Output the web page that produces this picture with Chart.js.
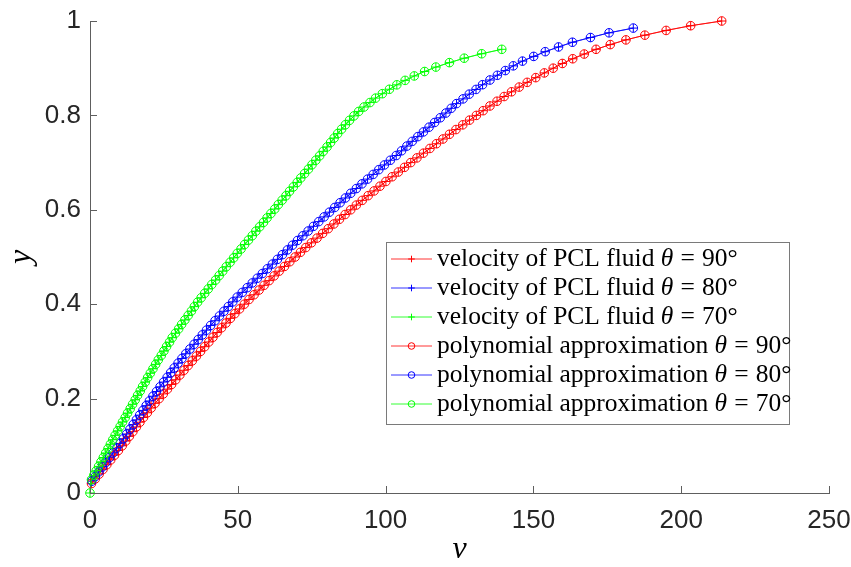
<!DOCTYPE html>
<html>
<head>
<meta charset="utf-8">
<title>PCL fluid velocity</title>
<script src="https://cdn.jsdelivr.net/npm/chart.js@4/dist/chart.umd.min.js"></script>
<style>
  html, body { margin: 0; padding: 0; background: #fff; }
  #wrap { width: 851px; height: 567px; }
</style>
</head>
<body>
<div id="wrap"><canvas id="chart" width="851" height="567"></canvas></div>
<script>
/* ── data: velocity v against height y ─────────────────────────────────── */
const xTicks = [0, 50, 100, 150, 200, 250];
const yTicks = [0, 0.2, 0.4, 0.6, 0.8, 1];

const redY = [0.02, 0.03, 0.04, 0.05, 0.06, 0.07, 0.08, 0.09, 0.10, 0.11, 0.12, 0.13, 0.14, 0.15, 0.16, 0.17, 0.18, 0.19,
  0.20, 0.21, 0.22, 0.23, 0.24, 0.25, 0.26, 0.27, 0.28, 0.29, 0.30, 0.31, 0.32, 0.33, 0.34, 0.35, 0.36, 0.37, 0.38, 0.39,
  0.40, 0.41, 0.42, 0.43, 0.44, 0.45, 0.46, 0.47, 0.48, 0.49, 0.50, 0.51, 0.52, 0.53, 0.54, 0.55, 0.56, 0.57, 0.58, 0.59,
  0.60, 0.61, 0.62, 0.63, 0.64, 0.65, 0.66, 0.67, 0.68, 0.69, 0.70, 0.71, 0.72, 0.73, 0.74, 0.75, 0.76, 0.77, 0.78, 0.79,
  0.80, 0.81, 0.82, 0.83, 0.84, 0.85, 0.86, 0.87, 0.88, 0.89, 0.90, 0.91, 0.92, 0.93, 0.94, 0.95, 0.96, 0.97, 0.98, 0.99, 1.00];
const redV = [0.5, 1.8, 3.1, 4.4, 5.7, 7.0, 8.3, 9.6, 10.9, 12.1, 13.3, 14.5, 15.7, 16.9, 18.1, 19.4, 20.7, 22.0,
  23.4, 24.8, 26.2, 27.6, 29.0, 30.4, 31.8, 33.2, 34.6, 36.0, 37.4, 38.8, 40.2, 41.6, 43.0, 44.5, 46.0, 47.5, 49.0, 50.6,
  52.2, 53.8, 55.5, 57.2, 58.9, 60.6, 62.3, 64.0, 65.8, 67.6, 69.4, 71.2, 73.0, 74.9, 76.8, 78.7, 80.6, 82.5, 84.4, 86.3,
  88.2, 90.1, 92.1, 94.1, 96.1, 98.1, 100.1, 102.2, 104.3, 106.4, 108.5, 110.6, 112.8, 115.0, 117.2, 119.4, 121.6, 123.8, 126.1, 128.4,
  130.7, 133.0, 135.3, 137.7, 140.1, 142.6, 145.2, 147.9, 150.8, 153.7, 156.7, 159.8, 163.3, 167.2, 171.2, 176.0, 181.3, 187.7, 194.9, 203.2, 213.7];

const blueY = [0.025, 0.035, 0.045, 0.055, 0.065, 0.075, 0.085, 0.095, 0.105, 0.115, 0.125, 0.135, 0.145, 0.155, 0.165, 0.175,
  0.185, 0.195, 0.205, 0.215, 0.225, 0.235, 0.245, 0.255, 0.265, 0.275, 0.285, 0.295, 0.305, 0.315, 0.325, 0.335, 0.345,
  0.355, 0.365, 0.375, 0.385, 0.395, 0.405, 0.415, 0.425, 0.435, 0.445, 0.455, 0.465, 0.475, 0.485, 0.495, 0.505, 0.515,
  0.525, 0.535, 0.545, 0.555, 0.565, 0.575, 0.585, 0.595, 0.605, 0.615, 0.625, 0.635, 0.645, 0.655, 0.665, 0.675, 0.685,
  0.695, 0.705, 0.715, 0.725, 0.735, 0.745, 0.755, 0.765, 0.775, 0.785, 0.795, 0.805, 0.815, 0.825, 0.835, 0.845, 0.855,
  0.865, 0.875, 0.885, 0.895, 0.905, 0.915, 0.925, 0.935, 0.945, 0.955, 0.965, 0.975, 0.985];
const blueV = [0.6, 1.8, 3.0, 4.2, 5.4, 6.6, 7.8, 9.0, 10.2, 11.3, 12.4, 13.5, 14.6, 15.7, 16.8, 17.9,
  19.0, 20.1, 21.3, 22.5, 23.7, 24.9, 26.1, 27.3, 28.5, 29.8, 31.1, 32.4, 33.8, 35.2, 36.6, 38.0, 39.4,
  40.8, 42.3, 43.8, 45.3, 46.8, 48.3, 49.8, 51.5, 53.2, 54.9, 56.6, 58.3, 60.0, 61.7, 63.4, 65.1, 66.8,
  68.5, 70.2, 72.0, 73.8, 75.6, 77.4, 79.2, 81.0, 82.8, 84.6, 86.4, 88.2, 90.1, 92.0, 93.9, 95.8, 97.7,
  99.6, 101.6, 103.6, 105.4, 107.2, 109.0, 110.9, 112.8, 114.7, 116.6, 118.5, 120.4, 122.2, 124.0, 126.2, 128.3, 130.6,
  132.8, 135.3, 137.8, 140.5, 143.2, 146.3, 150.1, 154.0, 158.5, 163.2, 169.3, 175.6, 183.8];

const greenY = [0, 0.0282, 0.0376, 0.047, 0.0564, 0.0658, 0.0752, 0.0846, 0.094, 0.1034, 0.1128, 0.1222, 0.1316, 0.141,
  0.1504, 0.1598, 0.1692, 0.1786, 0.188, 0.1974, 0.2068, 0.2162, 0.2256, 0.235, 0.2444, 0.2538, 0.2632, 0.2726, 0.282,
  0.2914, 0.3008, 0.3102, 0.3196, 0.329, 0.3384, 0.3478, 0.3572, 0.3666, 0.376, 0.3854, 0.3948, 0.4042, 0.4136, 0.423,
  0.4324, 0.4418, 0.4512, 0.4606, 0.47, 0.4794, 0.4888, 0.4982, 0.5076, 0.517, 0.5264, 0.5358, 0.5452, 0.5546, 0.564,
  0.5734, 0.5828, 0.5922, 0.6016, 0.611, 0.6204, 0.6298, 0.6392, 0.6486, 0.658, 0.6674, 0.6768, 0.6862, 0.6956, 0.705,
  0.7144, 0.7238, 0.7332, 0.7426, 0.752, 0.7614, 0.7708, 0.7802, 0.7896, 0.799, 0.8084, 0.8178, 0.8272, 0.8366, 0.846,
  0.8554, 0.8648, 0.8742, 0.8836, 0.893, 0.9024, 0.9118, 0.9212, 0.9306, 0.94];
const greenV = [0, 0.5, 1.3, 2.1, 2.9, 3.7, 4.5, 5.3, 6.1, 6.9, 7.7, 8.5, 9.35, 10.2,
  11.0, 11.9, 12.7, 13.6, 14.4, 15.3, 16.1, 17.0, 17.8, 18.7, 19.5, 20.4, 21.3, 22.2, 23.1,
  24.1, 25.0, 25.9, 26.9, 27.8, 28.9, 30.0, 31.0, 32.1, 33.2, 34.3, 35.3, 36.4, 37.6, 38.8,
  40.0, 41.2, 42.5, 43.7, 44.9, 46.1, 47.4, 48.6, 49.8, 51.1, 52.3, 53.6, 54.9, 56.1, 57.4,
  58.7, 59.9, 61.2, 62.5, 63.7, 65.0, 66.3, 67.5, 68.8, 70.1, 71.3, 72.6, 73.9, 75.1, 76.4,
  77.7, 78.9, 80.2, 81.4, 82.6, 83.8, 85.1, 86.4, 87.8, 89.3, 90.9, 92.7, 94.7, 96.6, 98.9,
  101.3, 103.8, 106.6, 109.7, 113.2, 117.0, 121.6, 126.6, 132.5, 139.3];

const angles = ["90", "80", "70"];
const colors = ["#ff0000", "#0000ff", "#00ff00"];

/* ── helpers ────────────────────────────────────────────────────────────── */
const INK = "#262626";
const AXIS = "#5e5e5e";
const SANS = "'Liberation Sans', Arial, sans-serif";
const SERIF = "'Liberation Serif', 'Times New Roman', serif";
const LEG_PX = 25.5;

function pts(vs, ys) {
  return vs.map((v, i) => ({ x: v, y: ys[i] }));
}

const series = [pts(redV, redY), pts(blueV, blueY), pts(greenV, greenY)];

function dataset(i, style) {
  return {
    label: style === "cross" ? `velocity of PCL fluid θ = ${angles[i]}°` : `polynomial approximation θ = ${angles[i]}°`,
    data: series[i],
    showLine: true,
    borderColor: colors[i],
    borderWidth: 0.8,
    pointStyle: style,
    pointRadius: 4.3,
    pointBorderWidth: 1,
    pointBorderColor: colors[i],
    pointBackgroundColor: "rgba(0,0,0,0)",
    backgroundColor: "rgba(0,0,0,0)",
    clip: false,
  };
}

// Chart.js paints dataset 0 last; MATLAB paints the last one on top, so flip order
const datasets = [0, 1, 2].map((i) => dataset(i, "cross"))
  .concat([0, 1, 2].map((i) => dataset(i, "circle")));
datasets.forEach((d, k) => { d.order = datasets.length - k; });

/* inward tick marks like a MATLAB axes */
const inwardTicks = {
  id: "inwardTicks",
  afterDatasetsDraw(chart) {
    const { ctx, chartArea: a, scales } = chart;
    ctx.save();
    ctx.strokeStyle = AXIS;
    ctx.lineWidth = 1;
    ctx.beginPath();
    xTicks.forEach((t) => {
      const px = Math.round(scales.x.getPixelForValue(t)) + 0.5;
      ctx.moveTo(px, a.bottom);
      ctx.lineTo(px, a.bottom - 7);
    });
    yTicks.forEach((t) => {
      const py = Math.round(scales.y.getPixelForValue(t)) + 0.5;
      ctx.moveTo(a.left, py);
      ctx.lineTo(a.left + 7, py);
    });
    ctx.stroke();
    ctx.restore();
  },
};

/* legend box inside the axes, drawn on top */
const boxLegend = {
  id: "boxLegend",
  afterDraw(chart) {
    const ctx = chart.ctx;
    const box = { x: 386, y: 242, w: 403, h: 182 };
    const rowH = 29;
    const roman = `${LEG_PX}px ${SERIF}`;
    const italic = `italic ${LEG_PX}px ${SERIF}`;
    const gap = LEG_PX * 0.28;
    ctx.save();
    ctx.fillStyle = "#fff";
    ctx.fillRect(box.x, box.y, box.w, box.h);
    ctx.strokeStyle = "#7a7a7a";
    ctx.lineWidth = 1;
    ctx.strokeRect(box.x + 0.5, box.y + 0.5, box.w, box.h);

    datasets.forEach((d, i) => {
      const cy = box.y + 17 + i * rowH;
      ctx.strokeStyle = d.borderColor;
      ctx.lineWidth = 0.8;
      ctx.beginPath();
      ctx.moveTo(391, cy);
      ctx.lineTo(432, cy);
      ctx.stroke();
      ctx.lineWidth = 1;
      ctx.fillStyle = "rgba(0,0,0,0)";
      Chart.helpers.drawPoint(ctx, { pointStyle: d.pointStyle, radius: 3.3, borderWidth: 1, rotation: 0 }, 411.5, cy);

      // "<text> θ = NN°" with TeX-like spacing round the equals sign
      const head = d.label.split("θ")[0];
      const parts = [
        [head, roman, 0],
        ["θ", italic, gap],
        ["=", roman, gap],
        [angles[i % 3] + "°", roman, 0],
      ];
      let x = 437;
      const base = cy + 7;
      ctx.fillStyle = "#000";
      ctx.textBaseline = "alphabetic";
      parts.forEach(([txt, font, after]) => {
        ctx.font = font;
        ctx.fillText(txt, x, base);
        x += ctx.measureText(txt).width + after;
      });
    });
    ctx.restore();
  },
};

function tickText(v) {
  return String(Math.round(v * 10) / 10);
}

/* ── chart ──────────────────────────────────────────────────────────────── */
new Chart(document.getElementById("chart"), {
  type: "scatter",
  data: { datasets },
  options: {
    responsive: false,
    animation: false,
    events: [],
    layout: { padding: { top: 21, right: 22, left: 0, bottom: 0 } },
    plugins: { legend: { display: false }, tooltip: { enabled: false } },
    scales: {
      x: {
        type: "linear",
        min: 0,
        max: 250,
        afterFit(scale) {
          scale.height = 74;
          scale.paddingLeft = 0;
          scale.paddingRight = 0;
        },
        afterBuildTicks(scale) { scale.ticks = xTicks.map((v) => ({ value: v })); },
        ticks: { font: { family: SANS, size: 26 }, color: INK, padding: 12, maxRotation: 0, callback: tickText },
        grid: { display: false, drawTicks: false },
        border: { display: true, color: AXIS, width: 1 },
        title: {
          display: true,
          text: "v",
          color: "#000",
          font: { family: SERIF, style: "italic", size: 32 },
          padding: { top: 0, bottom: -2 },
        },
      },
      y: {
        type: "linear",
        min: 0,
        max: 1,
        afterFit(scale) {
          scale.width = 90;
          scale.paddingTop = 0;
          scale.paddingBottom = 0;
        },
        afterBuildTicks(scale) { scale.ticks = yTicks.map((v) => ({ value: v })); },
        ticks: { font: { family: SANS, size: 26 }, color: INK, padding: 9, callback: tickText },
        grid: { display: false, drawTicks: false },
        border: { display: true, color: AXIS, width: 1 },
        title: {
          display: true,
          text: "y",
          color: "#000",
          font: { family: SERIF, style: "italic", size: 32 },
          padding: { top: 2, bottom: 0 },
        },
      },
    },
  },
  plugins: [inwardTicks, boxLegend],
});
</script>
</body>
</html>
